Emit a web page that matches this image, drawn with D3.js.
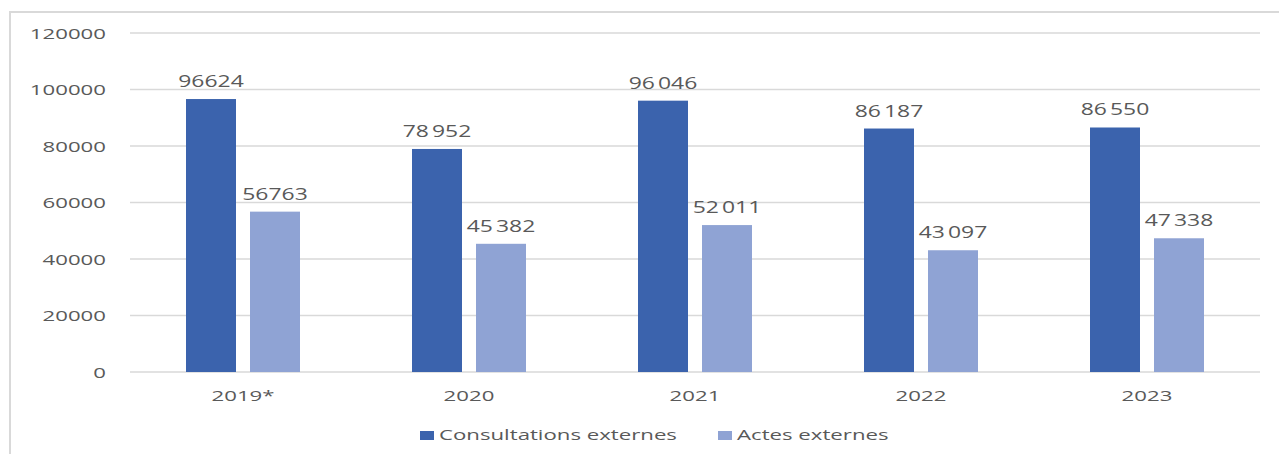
<!DOCTYPE html>
<html><head><meta charset="utf-8">
<script src="https://cdn.jsdelivr.net/npm/d3@7"></script>
<style>body{margin:0;background:#fff}svg{display:block}</style>
</head><body>
<svg id="c" width="1279" height="454"></svg>
<script>
const categories = ["2019*", "2020", "2021", "2022", "2023"];
const consultations = [96624, 78952, 96046, 86187, 86550];
const actes = [56763, 45382, 52011, 43097, 47338];
const consultLabels = ["96624", "78\u202F952", "96\u202F046", "86\u202F187", "86\u202F550"];
const actesLabels = ["56763", "45\u202F382", "52\u202F011", "43\u202F097", "47\u202F338"];
const yTicks = [0, 20000, 40000, 60000, 80000, 100000, 120000];
const seriesNames = ["Consultations externes", "Actes externes"];
const colors = ["#3b63ad", "#8fa3d4"];

const SX = 1.48, FONT = "Open Sans, sans-serif", TXT = "#595959";
const svg = d3.select("#c");

// frame
svg.append("path").attr("d", "M10,1000 V12 H1300").attr("fill", "none")
  .attr("stroke", "#d9d9d9").attr("stroke-width", 2);

const x = d3.scaleBand().domain(categories).range([130, 1260]);
const y = d3.scaleLinear().domain([0, 120000]).range([372, 33]);

function label(x0, y0, t, anchor, size) {
  const g = svg.append("g").attr("transform", `translate(${x0},${y0})`);
  g.append("text").attr("transform", `scale(${SX},1)`).attr("text-anchor", anchor)
    .attr("font-family", FONT).attr("font-size", size || 15).attr("fill", TXT).text(t);
}

// gridlines
yTicks.forEach(v => {
  svg.append("line").attr("x1", 130).attr("x2", 1260).attr("y1", y(v)).attr("y2", y(v))
    .attr("stroke", "#d9d9d9").attr("stroke-width", 1.5);
  label(106, y(v) + 5.5, String(v), "end");
});

const bw = 50, gap = 14;
const series = [consultations, actes];
const slabels = [consultLabels, actesLabels];
categories.forEach((c, i) => {
  const cx = x(c) + x.bandwidth() / 2;
  series.forEach((s, k) => {
    const bx = k === 0 ? cx - gap / 2 - bw : cx + gap / 2;
    svg.append("rect").attr("x", bx).attr("y", y(s[i])).attr("width", bw)
      .attr("height", y(0) - y(s[i])).attr("fill", colors[k]);
    label(bx + bw / 2, y(s[i]) - 12, slabels[k][i], "middle", 15.5);
  });
  label(cx, 401, c, "middle");
});

// legend
const legX = [420, 718];
seriesNames.forEach((n, k) => {
  svg.append("rect").attr("x", legX[k]).attr("y", 431).attr("width", 14).attr("height", 9).attr("fill", colors[k]);
  label(legX[k] + 19, 440, n, "start");
});
</script>
</body></html>
